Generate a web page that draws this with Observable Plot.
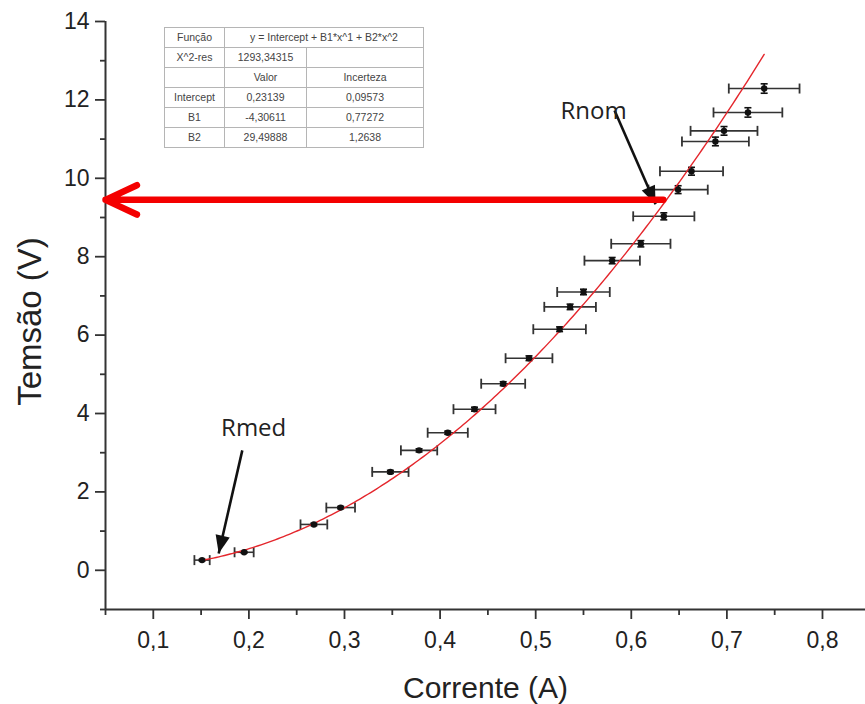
<!DOCTYPE html>
<html>
<head>
<meta charset="utf-8">
<script src="https://cdn.jsdelivr.net/npm/d3@7"></script>
<script src="https://cdn.jsdelivr.net/npm/@observablehq/plot@0.6"></script>
<style>
  html, body { margin: 0; padding: 0; background: #fff; }
  #wrap { position: relative; width: 865px; height: 704px; }
  #fit { position: absolute; left: 164px; top: 27px; border-collapse: collapse;
         font-family: "Liberation Sans", Arial, sans-serif; font-size: 10.5px; color: #444;
         border: 1.5px solid #555; background: #fff; }
  #fit td { border: 1px solid #b5b5b5; text-align: center; padding: 0; height: 19px; line-height: 19px; }
</style>
</head>
<body>
<div id="wrap"></div>
<script>
// ---- data ----
const current    = [0.151, 0.195, 0.268, 0.296, 0.348, 0.378, 0.408, 0.436, 0.466, 0.493, 0.525, 0.536, 0.550, 0.580, 0.610, 0.634, 0.649, 0.663, 0.688, 0.697, 0.722, 0.739];
const voltage    = [0.26, 0.46, 1.17, 1.60, 2.51, 3.06, 3.51, 4.11, 4.76, 5.41, 6.15, 6.72, 7.10, 7.90, 8.33, 9.03, 9.71, 10.18, 10.94, 11.21, 11.68, 12.29];
const currentErr = [0.008, 0.010, 0.014, 0.015, 0.019, 0.019, 0.021, 0.022, 0.023, 0.0245, 0.0275, 0.027, 0.0275, 0.029, 0.031, 0.032, 0.031, 0.033, 0.035, 0.035, 0.036, 0.037];
const voltageErr = [0.02, 0.02, 0.03, 0.03, 0.04, 0.04, 0.04, 0.05, 0.05, 0.06, 0.06, 0.07, 0.07, 0.08, 0.08, 0.09, 0.10, 0.10, 0.11, 0.11, 0.12, 0.12];

// fit table
const fitFunction = "y = Intercept + B1*x^1 + B2*x^2";
const chi2res = "1293,34315";
const paramNames = ["Intercept", "B1", "B2"];
const paramValues = [0.23139, -4.30611, 29.49888];
const paramErrors = [0.09573, 0.77272, 1.2638];

// axes
const xDomain = [0.05, 0.845];
const yDomain = [-1, 14];
const xTicks = [0.1, 0.2, 0.3, 0.4, 0.5, 0.6, 0.7, 0.8];
const xMinor = [0.05, 0.15, 0.25, 0.35, 0.45, 0.55, 0.65, 0.75];
const yTicks = [0, 2, 4, 6, 8, 10, 12, 14];
const yMinor = [-1, 1, 3, 5, 7, 9, 11, 13];

// annotations
const labels = [{text: "Rmed", x: 0.205, y: 3.62}, {text: "Rnom", x: 0.5606, y: 11.71}];
const pointers = [
  {x1: 0.1931, y1: 3.06, x2: 0.1684, y2: 0.43, angle: 192.8},
  {x1: 0.5825, y1: 11.73, x2: 0.6254, y2: 9.34, angle: 156.4}
];
const rnomLevel = {x1: 0.6335, x2: 0.05, y: 9.45};

// ---- build ----
const data = current.map((c, i) => ({x: c, y: voltage[i], dx: currentErr[i], dy: voltageErr[i]}));
const fitY = x => paramValues[0] + paramValues[1] * x + paramValues[2] * x * x;
const xs = d3.range(0, 201).map(i => current[0] + (current[current.length - 1] - current[0]) * i / 200);
const curve = xs.map(x => ({x, y: fitY(x)}));

const vCap = {draw(ctx, size) { const r = Math.sqrt(size / Math.PI); ctx.moveTo(0, -r); ctx.lineTo(0, r); }};
const hCap = {draw(ctx, size) { const r = Math.sqrt(size / Math.PI); ctx.moveTo(-r, 0); ctx.lineTo(r, 0); }};
const head = {draw(ctx, size) { const r = Math.sqrt(size / Math.PI); ctx.moveTo(0, 0); ctx.lineTo(-0.4 * r, r); ctx.lineTo(0.4 * r, r); ctx.closePath(); }};

const comma = d => String(d).replace(".", ",");
const eb = "#333";

const chart = Plot.plot({
  width: 865, height: 704,
  marginLeft: 105, marginRight: 0, marginTop: 21, marginBottom: 95,
  style: {fontFamily: "Liberation Sans, Arial, sans-serif", background: "#fff", color: "#222", overflow: "visible"},
  x: {domain: xDomain},
  y: {domain: yDomain},
  marks: [
    // horizontal error bars
    Plot.ruleY(data, {y: "y", x1: d => d.x - d.dx, x2: d => d.x + d.dx, stroke: eb, strokeWidth: 1.6}),
    Plot.dot(data, {x: d => d.x - d.dx, y: "y", symbol: vCap, r: 5, stroke: eb, strokeWidth: 1.8, fill: "none"}),
    Plot.dot(data, {x: d => d.x + d.dx, y: "y", symbol: vCap, r: 5, stroke: eb, strokeWidth: 1.8, fill: "none"}),
    // vertical error bars
    Plot.ruleX(data, {x: "x", y1: d => d.y - d.dy, y2: d => d.y + d.dy, stroke: "#111", strokeWidth: 1.6}),
    Plot.dot(data, {x: "x", y: d => d.y - d.dy, symbol: hCap, r: 3.5, stroke: "#111", strokeWidth: 1.6, fill: "none"}),
    Plot.dot(data, {x: "x", y: d => d.y + d.dy, symbol: hCap, r: 3.5, stroke: "#111", strokeWidth: 1.6, fill: "none"}),
    // fit curve
    Plot.line(curve, {x: "x", y: "y", stroke: "#e4262c", strokeWidth: 1.4}),
    // points
    Plot.dot(data, {x: "x", y: "y", r: 3.2, fill: "#111", stroke: "none"}),
    // black pointers
    Plot.link(pointers, {x1: "x1", y1: "y1", x2: "x2", y2: "y2", stroke: "#111", strokeWidth: 2.6}),
    Plot.dot(pointers, {x: "x2", y: "y2", symbol: head, r: 18, fill: "#111", stroke: "none", rotate: "angle"}),
    Plot.text(labels, {x: "x", y: "y", text: "text", fontFamily: "Open Sans, sans-serif", fontSize: 24, fill: "#222"}),
    // axis lines
    Plot.ruleX([xDomain[0]], {stroke: "#333", strokeWidth: 2}),
    Plot.ruleY([yDomain[0]], {stroke: "#333", strokeWidth: 2}),
    // axes
    Plot.axisX({ticks: xTicks, tickSize: 10, tickPadding: 12, fontSize: 23, strokeWidth: 1.8, stroke: "#333",
                tickFormat: d => d3.format(".1f")(d).replace(".", ","), label: null}),
    Plot.axisX({ticks: xMinor, tickSize: 6, tickFormat: () => "", strokeWidth: 1.8, stroke: "#333", label: null}),
    Plot.axisY({ticks: yTicks, tickSize: 10, tickPadding: 6, fontSize: 23, strokeWidth: 1.8, stroke: "#333",
                tickFormat: d => String(d), label: null}),
    Plot.axisY({ticks: yMinor, tickSize: 5, tickFormat: () => "", strokeWidth: 1.8, stroke: "#333", label: null}),
    Plot.text(["Corrente (A)"], {frameAnchor: "bottom", dy: 88, fontSize: 30, fill: "#222"}),
    Plot.text(["Temsão (V)"], {frameAnchor: "left", textAnchor: "middle", lineAnchor: "middle", dx: -75, dy: 6, rotate: -90, fontSize: 33, fill: "#222"}),
    // red arrow
    Plot.arrow([rnomLevel], {x1: "x1", y1: "y", x2: "x2", y2: "y", stroke: "#f40000", strokeWidth: 6.5, headLength: 8, headAngle: 50})
  ]
});

const wrap = document.getElementById("wrap");
wrap.appendChild(chart);

// fit table (built from the named arrays)
const table = document.createElement("table");
table.id = "fit";
const rows = [
  [{t: "Função", w: 59}, {t: fitFunction, span: 2}],
  [{t: "X^2-res"}, {t: chi2res, w: 81}, {t: "", w: 116}],
  [{t: ""}, {t: "Valor"}, {t: "Incerteza"}],
  ...paramNames.map((n, i) => [{t: n}, {t: comma(paramValues[i])}, {t: comma(paramErrors[i])}])
];
rows.forEach(r => {
  const tr = document.createElement("tr");
  r.forEach(c => {
    const td = document.createElement("td");
    td.textContent = c.t;
    if (c.span) td.colSpan = c.span;
    if (c.w) td.style.width = c.w + "px";
    tr.appendChild(td);
  });
  table.appendChild(tr);
});
wrap.appendChild(table);
</script>
</body>
</html>
